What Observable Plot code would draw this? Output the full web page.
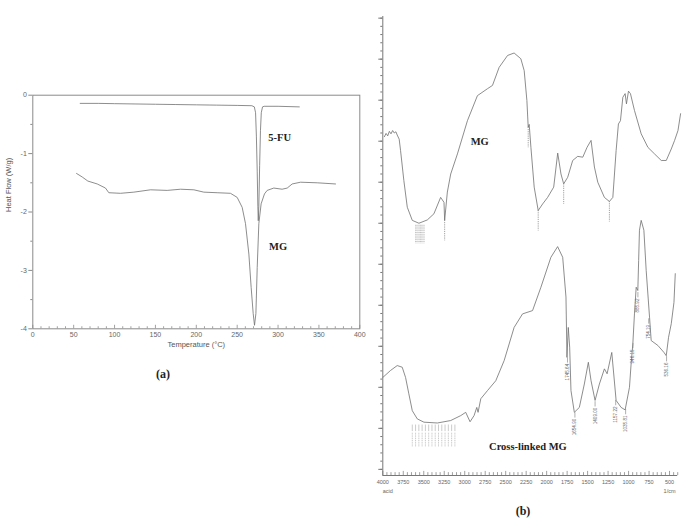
<!DOCTYPE html>
<html><head><meta charset="utf-8">
<script src="https://cdn.jsdelivr.net/npm/d3@7"></script>
<script src="https://cdn.jsdelivr.net/npm/@observablehq/plot@0.6"></script>
<style>
body{margin:0;background:#fff;}
#wrap{position:relative;width:685px;height:519px;overflow:hidden;background:#fff;}
.pan{position:absolute;top:0;}
.cap{position:absolute;transform:translate(-50%,-50%);font-family:"Liberation Serif","Times New Roman",serif;font-weight:bold;font-size:12px;color:#222;}
</style></head><body>
<div id="wrap">
  <div id="left" class="pan" style="left:0"></div>
  <div id="right" class="pan" style="left:370px"></div>
  <div class="cap" style="left:163px;top:374px">(a)</div>
  <div class="cap" style="left:523px;top:511px">(b)</div>
</div>
<script>
// ---------- (a) DSC data ----------
const dscTemp5FU = [58, 80, 100, 125, 150, 175, 200, 225, 250, 268, 271, 272.5, 273.5, 274.5, 275.3, 275.8, 276.5, 277.5, 278.5, 279.5, 281, 283, 300, 326];
const dscHeat5FU = [-0.14, -0.14, -0.145, -0.15, -0.155, -0.16, -0.165, -0.17, -0.175, -0.18, -0.2, -0.3, -0.7, -1.3, -1.9, -2.15, -1.9, -1.2, -0.6, -0.3, -0.2, -0.19, -0.19, -0.2];
const dscTempMG = [53.5, 60.4, 67.3, 78.8, 88.9, 93, 107.3, 123.6, 144, 164.4, 180.7, 197, 209.2, 225.5, 241.8, 250, 256.1, 260.2, 264.3, 267.1, 269.6, 271.2, 272.9, 274.5, 276.5, 279.3, 283.4, 286.7, 294.8, 305, 311.2, 317.3, 327.5, 347.9, 370.3];
const dscHeatMG = [-1.34, -1.40, -1.47, -1.52, -1.59, -1.67, -1.68, -1.66, -1.62, -1.63, -1.61, -1.62, -1.66, -1.67, -1.68, -1.75, -1.92, -2.20, -2.72, -3.29, -3.74, -3.94, -3.74, -2.95, -2.20, -1.86, -1.69, -1.63, -1.59, -1.61, -1.59, -1.52, -1.49, -1.50, -1.52];
const dscXTicks = [0, 50, 100, 150, 200, 250, 300, 350, 400];
const dscYTicks = [0, -1, -2, -3, -4];
const dscLabels = ["5-FU", "MG"];
const dscLabelT = [288, 289];
const dscLabelH = [-0.72, -2.59];

// ---------- (b) FTIR data ----------
const ftirWnMG = [3980,3960,3940,3920,3900,3880,3860,3840,3824,3800,3783,3743,3701,3640,3559,3457,3376,3294,3253,3245,3212,3171,3089,2967,2845,2722,2661,2580,2477,2397,2315,2274,2241,2225,2213,2192,2152,2103,2049,1988,1914,1865,1825,1792,1743,1682,1621,1559,1507,1458,1417,1376,1295,1234,1192,1152,1124,1099,1070,1042,1026,1001,977,928,846,764,683,601,540,479,438,397,365];
const ftirTMG = [81.1,81.9,81.3,82.4,81.8,82.6,82.0,82.3,81.5,80.5,77.7,70.4,63.9,60.7,60.0,60.8,62.3,66.3,65.1,60.7,67.6,72.0,76.9,85.0,91.1,92.8,93.6,98.0,100.9,101.5,100.1,97.2,89.9,83.4,84.1,78.5,68.8,63.1,64.7,66.3,68.8,77.1,72.0,69.6,71.2,75.3,76.3,76.1,78.5,80.2,73.7,70.0,66.3,65.3,66.3,77.7,84.2,85.0,90.7,91.6,89.1,92.2,91.6,87.5,81.8,78.5,76.9,75.3,75.3,78.1,80.2,82.6,86.7];
const ftirWnXL = [4000,3906,3824,3763,3722,3682,3640,3579,3498,3334,3171,3049,2988,2935,2886,2853,2837,2804,2722,2621,2519,2397,2294,2172,2070,1948,1866,1804,1764,1752,1736,1719,1703,1662,1601,1540,1491,1458,1409,1356,1295,1262,1205,1152,1091,1042,989,969,948,928,907,887,877,867,846,813,785,744,724,642,568,540,512,479,446,430];
const ftirTXL = [22.4,24.1,25.3,24.9,22.4,18.4,14.3,12.3,11.5,11.3,11.9,13.1,13.9,11.6,13.1,15.1,13.9,17.2,19.2,21.6,26.5,34.6,37.9,38.7,44.4,51.7,54.3,51.7,42.0,27.3,34.6,29.8,19.2,13.9,15.1,20.8,26.1,21.6,16.8,20.8,24.5,23.3,28.5,16.8,15.1,14.5,20.0,25.7,30.6,37.9,44.4,43.6,50.9,58.3,60.7,58.3,48.5,37.1,31.4,30.2,28.5,27.7,32.2,35.5,40.7,47.7];
const peakWnXL = [1745.64, 1654.90, 1409.00, 1157.22, 1035.81, 946.15, 885.92, 754.19, 536.16];
const peakTXL = [27.2, 13.8, 16.5, 16.8, 14.6, 30.7, 43.1, 36.7, 27.5];
const markWnMG = [3245, 2225, 2103, 1792, 1234];
const markTMG = [60.7, 83.4, 63.1, 69.6, 65.3];
const clusterWnMG = [3600, 3585, 3570, 3555, 3540, 3525, 3510, 3495];
const clusterTopMG = 59.5;
const clusterWnXL = [3640, 3600, 3560, 3520, 3480, 3440, 3400, 3360, 3320, 3280, 3240, 3200, 3160, 3120];
const clusterTopXL = 10.8;
const ftirXTicks = [4000,3750,3500,3250,3000,2750,2500,2250,2000,1750,1500,1250,1000,750,500];
const ftirLabels = ["MG", "Cross-linked MG"];
const ftirLabelWn = [2927, 2703];
const ftirLabelT = [79.8, 5.5];

const grey = "#707070";
const sans = "Liberation Sans, Arial, sans-serif";
const serif = "Liberation Serif, Times New Roman, serif";

// ---------- (a) ----------
const mg5 = dscTemp5FU.map((t, i) => ({t, h: dscHeat5FU[i]}));
const mgA = dscTempMG.map((t, i) => ({t, h: dscHeatMG[i]}));
const aLabels = dscLabels.map((s, i) => ({s, t: dscLabelT[i], h: dscLabelH[i]}));
const xMinorA = d3.range(0, 401, 10);

const left = Plot.plot({
  width: 370, height: 519,
  marginLeft: 32.3, marginRight: 10.7, marginTop: 94.7, marginBottom: 190.7,
  style: {fontFamily: sans, color: "#555", background: "transparent"},
  x: {domain: [0, 400], label: null},
  y: {domain: [-4, 0], label: null},
  marks: [
    Plot.frame({stroke: "#8a8a8a", strokeWidth: 1}),
    Plot.ruleX(xMinorA, {x: d => d, y1: -4, y2: d => d % 50 === 0 ? -3.94 : -3.965, stroke: "#8a8a8a", strokeWidth: 0.8}),
    Plot.axisX({ticks: dscXTicks, tickSize: 0, tickPadding: 3, fontSize: 7, tickFormat: d => String(d), fill: "#666"}),
    Plot.axisY({ticks: dscYTicks, tickSize: 4, tickPadding: 2, fontSize: 7, tickFormat: d => String(d), stroke: "#8a8a8a", fill: "#666"}),
    Plot.axisY({ticks: [-0.5, -1.5, -2.5, -3.5], tickSize: 2, tickFormat: () => "", stroke: "#8a8a8a"}),
    Plot.text(["Temperature (°C)"], {frameAnchor: "bottom", dy: 18, fontSize: 7.5, fill: "#555"}),
    Plot.text(["Heat Flow (W/g)"], {frameAnchor: "left", dx: -24, rotate: -90, fontSize: 7.5, fill: "#555"}),
    Plot.line(mg5, {x: "t", y: "h", stroke: grey, strokeWidth: 0.8}),
    Plot.line(mgA, {x: "t", y: "h", stroke: grey, strokeWidth: 0.8}),
    Plot.text(aLabels, {x: "t", y: "h", text: "s", textAnchor: "start", fontFamily: serif, fontWeight: "bold", fontSize: 10.5, fill: "#222"})
  ]
});
document.getElementById("left").appendChild(left);

// ---------- (b) ----------
const specMG = ftirWnMG.map((w, i) => ({w, v: ftirTMG[i]}));
const specXL = ftirWnXL.map((w, i) => ({w, v: ftirTXL[i]}));
const peaks = peakWnXL.map((w, i) => ({w, v: peakTXL[i]}));
const marksMG = markWnMG.map((w, i) => ({w, v: markTMG[i]}));
const bLabels = ftirLabels.map((s, i) => ({s, w: ftirLabelWn[i], v: ftirLabelT[i]}));
const xMinorB = d3.range(4000, 399, -50);
const yMin = -1.5;

const right = Plot.plot({
  width: 315, height: 519,
  marginLeft: 12.3, marginRight: 4.5, marginTop: 16, marginBottom: 44,
  style: {fontFamily: sans, color: "#555", background: "transparent"},
  x: {domain: [4000, 360], label: null},
  y: {domain: [yMin, 110.4], label: null},
  marks: [
    Plot.ruleX([4000], {stroke: "#777", strokeWidth: 1}),
    Plot.ruleY([yMin], {x1: 4000, x2: 400, stroke: "#777", strokeWidth: 1}),
    Plot.ruleX(xMinorB, {x: d => d, y1: yMin, y2: d => d % 250 === 0 ? yMin + 1.0 : yMin + 0.7, stroke: "#777", strokeWidth: 0.7}),
    Plot.axisX({ticks: ftirXTicks, tickSize: 0, tickPadding: 5, fontSize: 5.5, tickFormat: d => String(d), fill: "#666"}),
    Plot.axisY({ticks: d3.range(0, 111, 10), tickSize: 4, tickFormat: () => "", stroke: "#777"}),
    Plot.axisY({ticks: d3.range(0, 111, 2), tickSize: 2, tickFormat: () => "", stroke: "#777"}),
    Plot.text(["acid"], {x: 4000, y: yMin, dy: 16, fontSize: 5.5, fill: "#666", textAnchor: "start"}),
    Plot.text(["1/cm"], {x: 500, y: yMin, dy: 16, fontSize: 5.5, fill: "#666"}),
    Plot.line(specMG, {x: "w", y: "v", stroke: grey, strokeWidth: 0.8}),
    Plot.line(specXL, {x: "w", y: "v", stroke: grey, strokeWidth: 0.8}),
    // peak annotations
    Plot.ruleX(marksMG, {x: "w", y1: "v", y2: d => d.v - 5, stroke: "#888", strokeWidth: 0.8, strokeDasharray: "1.2,1"}),
    Plot.ruleX(clusterWnMG, {x: d => d, y1: clusterTopMG, y2: clusterTopMG - 4.5, stroke: "#999", strokeWidth: 0.6, strokeDasharray: "1,0.8"}),
    Plot.ruleX(clusterWnXL, {x: d => d, y1: clusterTopXL, y2: clusterTopXL - 1.6, stroke: "#999", strokeWidth: 0.5}),
    Plot.ruleX(clusterWnXL, {x: d => d, y1: clusterTopXL - 2, y2: clusterTopXL - 5.4, stroke: "#999", strokeWidth: 0.6, strokeDasharray: "1,0.8"}),
    Plot.ruleX(peaks, {x: "w", y1: "v", y2: d => d.v - 1.3, stroke: "#777", strokeWidth: 0.6}),
    Plot.text(peaks, {x: "w", y: "v", dy: 6, text: d => d.w.toFixed(2), rotate: -90, textAnchor: "end", fontSize: 4.6, fill: "#666"}),
    Plot.text(bLabels, {x: "w", y: "v", text: "s", textAnchor: "start", fontFamily: serif, fontWeight: "bold", fontSize: 10.5, fill: "#222"})
  ]
});
document.getElementById("right").appendChild(right);
</script>
</body></html>
